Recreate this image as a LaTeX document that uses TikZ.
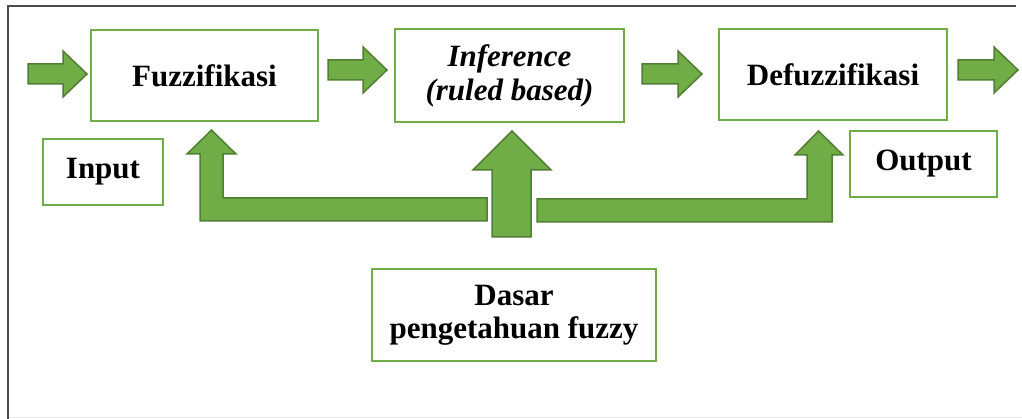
\documentclass[tikz,border=0pt]{standalone}
\usepackage{fontspec}
\setmainfont{Liberation Serif}
\usepackage{tikz}
\usetikzlibrary{calc, positioning}
\definecolor{leafgreen}{RGB}{112,173,71}
\definecolor{darkleaf}{RGB}{80,126,50}
\newcommand{\harrow}[3]{%
  \filldraw[blockarrow] (#1,#3-10) -- (#2-24,#3-10) -- (#2-24,#3-23) -- (#2,#3)
  -- (#2-24,#3+23) -- (#2-24,#3+10) -- (#1,#3+10) -- cycle;}

\begin{document}
\begin{tikzpicture}[x=1pt, y=-1pt,
    stagebox/.style={draw=leafgreen, line width=2.5pt, fill=white, inner sep=0pt,
      font=\fontsize{31}{35}\selectfont\bfseries, align=center},
    blockarrow/.style={fill=leafgreen, draw=darkleaf, line width=1.5pt, line join=miter}]
            \useasboundingbox (0,0) rectangle (1022,419);

            % === Frame ===
            \draw[black!70, line width=2pt] (8,419) -- (8,6) -- (1016,6);
            \draw[black!8, line width=1pt] (9,417) -- (1022,417);

            % === Stages ===
            \node[stagebox, minimum width=227pt, minimum height=91pt] (fuzz) at (204.5,75.5) {Fuzzifikasi};
            \node[stagebox, minimum width=229pt, minimum height=93pt] (infer) at (509.5,75.5)
                {\itshape Inference\\[-1pt]\itshape (ruled based)};
            \node[stagebox, minimum width=228pt, minimum height=91pt] (defuzz) at (833,74.5) {Defuzzifikasi};

            \node[stagebox, minimum width=120pt, minimum height=66pt] (input) at (103,172) {Input};
            \node[stagebox, minimum width=147pt, minimum height=66pt] (output) at (923.5,164) {Output};
            \node[stagebox, minimum width=284pt, minimum height=92pt] (dasar) at (514,315)
                {Dasar\\[-2pt]pengetahuan fuzzy};

            % === Flow arrows ===
            \harrow{28}{87}{74}
            \harrow{328}{387}{70}
            \harrow{642}{702}{74}
            \harrow{958}{1018}{70}

            % === Knowledge base arrows ===
            \filldraw[blockarrow] (211.5,130) -- (236,154) -- (223,154) -- (223,198) -- (487,198)
            -- (487,221) -- (200,221) -- (200,154) -- (187,154) -- cycle;

            \filldraw[blockarrow] (512,131) -- (551,170) -- (531,170) -- (531,237)
            -- (492,237) -- (492,170) -- (473,170) -- cycle;

            \filldraw[blockarrow] (537,199) -- (807,199) -- (807,155) -- (795,155) -- (818.5,131)
            -- (843,155) -- (832,155) -- (832,222) -- (537,222) -- cycle;
        \end{tikzpicture}
\end{document}
